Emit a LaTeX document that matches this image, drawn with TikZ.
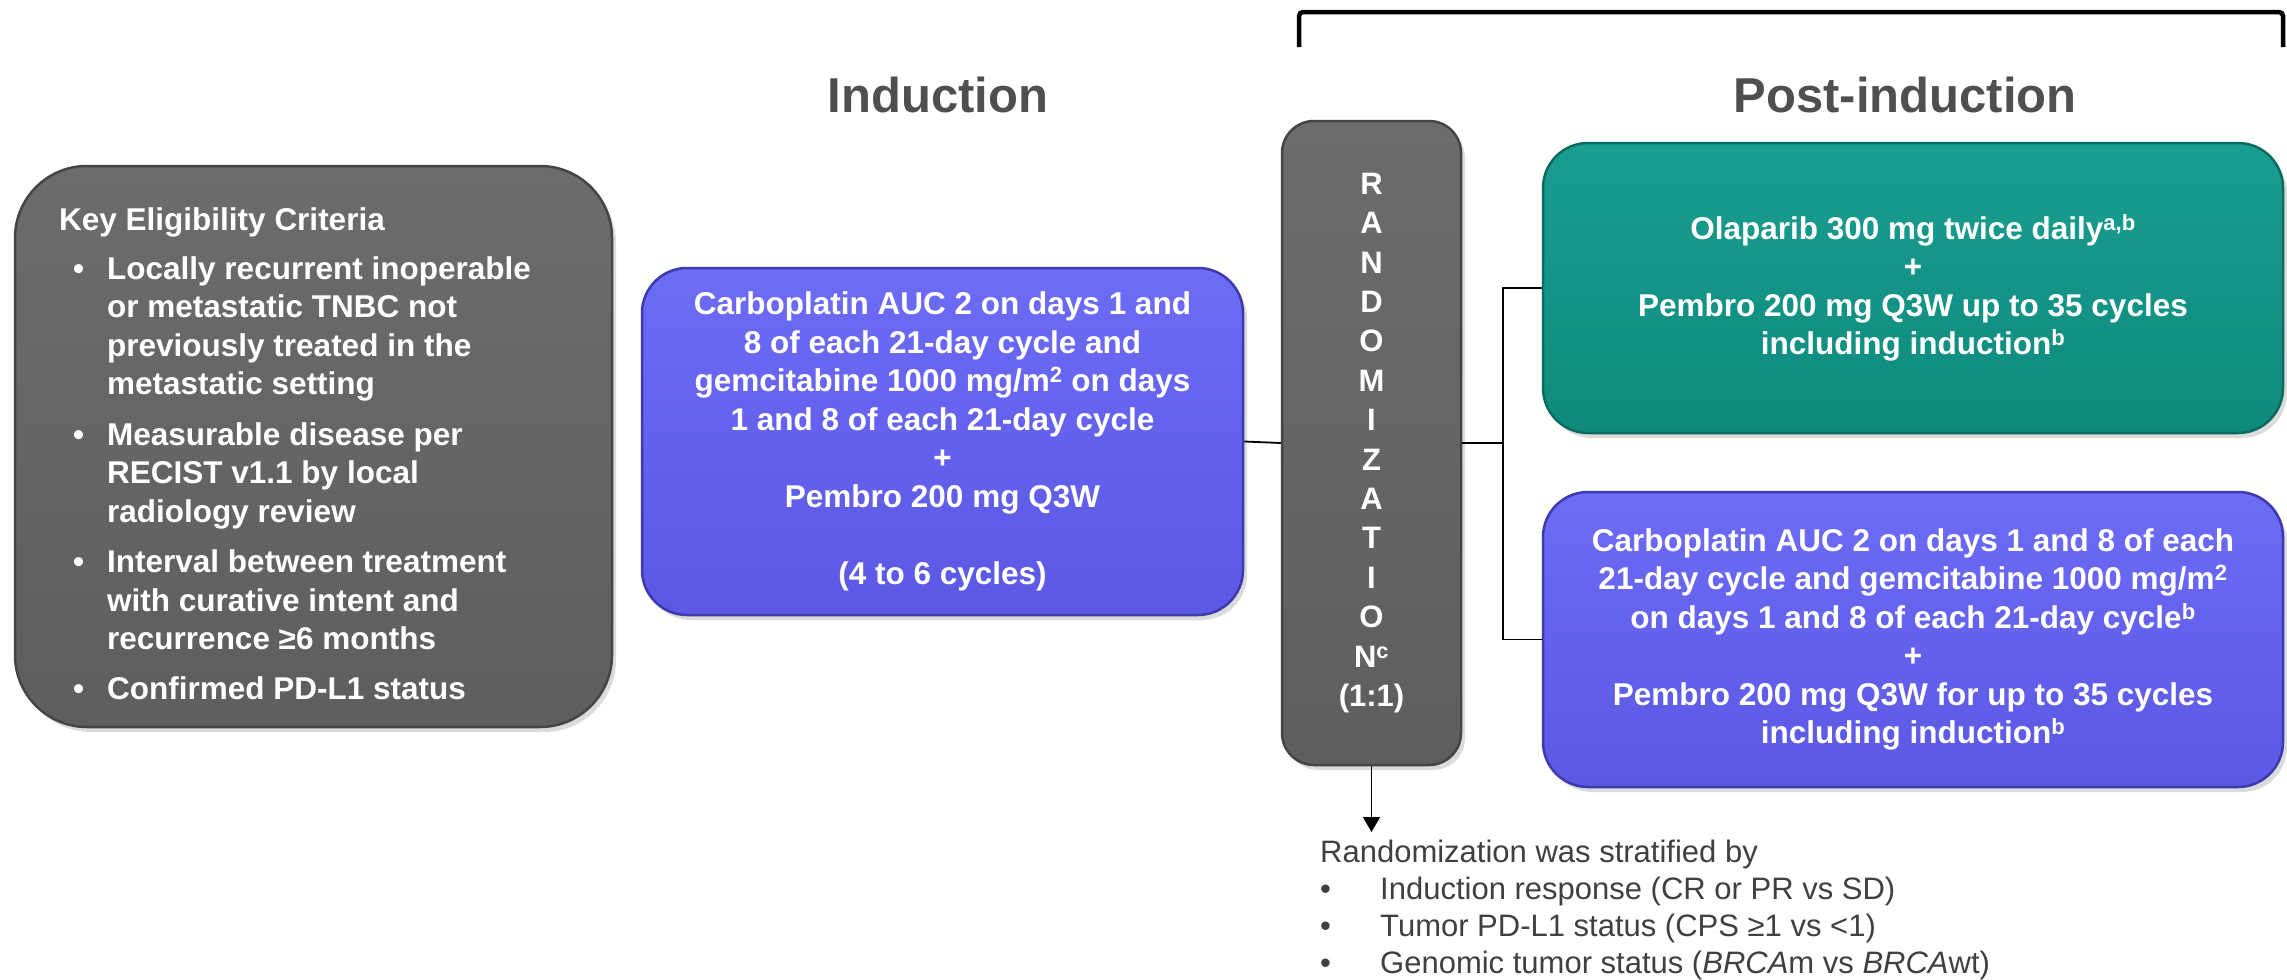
\documentclass[tikz,border=0pt]{standalone}
\usepackage{fontspec}
\setmainfont{Liberation Sans}
\usetikzlibrary{arrows.meta,shadows}
\definecolor{greyTop}{HTML}{6C6C6C}
\definecolor{greyBot}{HTML}{5E5E5E}
\definecolor{greyEdge}{HTML}{454545}
\definecolor{blueTop}{HTML}{6D6CF5}
\definecolor{blueBot}{HTML}{5B58E4}
\definecolor{blueEdge}{HTML}{3C3AAE}
\definecolor{tealTop}{HTML}{1A9E91}
\definecolor{tealBot}{HTML}{0E8A7C}
\definecolor{tealEdge}{HTML}{0A6B61}
\definecolor{titleGrey}{HTML}{4F4F4F}
\definecolor{noteGrey}{HTML}{404040}
\newcommand\bodyfnt{\fontsize{31.5}{38.5}\selectfont\bfseries}
\newcommand\randfnt{\fontsize{31}{39.4}\selectfont\bfseries}
\newcommand\notefnt{\fontsize{31}{37}\selectfont}
\newcommand\titlefnt{\fontsize{49}{58}\selectfont\bfseries}
\begin{document}
\begin{tikzpicture}[x=1pt,y=-1pt,
  boxbase/.style={rectangle, line width=2.5pt, inner sep=0pt,
    drop shadow={opacity=0.28, shadow xshift=4pt, shadow yshift=-5pt}},
  greybox/.style={boxbase, draw=greyEdge, top color=greyTop, bottom color=greyBot},
  bluebox/.style={boxbase, draw=blueEdge, top color=blueTop, bottom color=blueBot},
  tealbox/.style={boxbase, draw=tealEdge, top color=tealTop, bottom color=tealBot},
  boxtext/.style={text=white, font=\bodyfnt, align=center},
  title/.style={text=titleGrey, font=\titlefnt, anchor=base, inner sep=0pt},
  conn/.style={draw=black, line width=1.8pt}
]
\useasboundingbox (0,0) rectangle (2287,980);
\fill[white] (0,0) rectangle (2287,980);

% bracket over post-induction
\draw[line width=4.5pt, rounded corners=4pt] (1299,47) -- (1299,12) -- (2283,12) -- (2283,47);

% titles
\node[title] (tind) at (938,112) {Induction};
\node[title] (tpost) at (1905,112) {Post-induction};

% boxes
\node[greybox, rounded corners=72pt, minimum width=597pt, minimum height=561pt] (key) at (313.5,446.5) {};
\node[bluebox, rounded corners=45pt, minimum width=601pt, minimum height=347pt, boxtext] (ind) at (942.5,441.5)
  {Carboplatin AUC 2 on days 1 and\\8 of each 21-day cycle and\\gemcitabine 1000 mg/m\textsuperscript{2} on days\\1 and 8 of each 21-day cycle\\+\\Pembro 200 mg Q3W\\[38.5pt](4 to 6 cycles)};
\node[greybox, rounded corners=32pt, minimum width=179pt, minimum height=644pt, text=white, font=\randfnt, align=center] (rand) at (1371.5,443)
  {R\\A\\N\\D\\O\\M\\I\\Z\\A\\T\\I\\O\\N\textsuperscript{c}\\(1:1)};
\node[tealbox, rounded corners=45pt, minimum width=740pt, minimum height=290pt, boxtext] (olap) at (1913,288)
  {Olaparib 300 mg twice daily\textsuperscript{a,b}\\+\\Pembro 200 mg Q3W up to 35 cycles\\including induction\textsuperscript{b}};
\node[bluebox, rounded corners=45pt, minimum width=740pt, minimum height=295pt, boxtext] (chemo) at (1913,639.5)
  {Carboplatin AUC 2 on days 1 and 8 of each\\21-day cycle and gemcitabine 1000 mg/m\textsuperscript{2}\\on days 1 and 8 of each 21-day cycle\textsuperscript{b}\\+\\Pembro 200 mg Q3W for up to 35 cycles\\including induction\textsuperscript{b}};

% eligibility text
\node[anchor=base west, inner sep=0pt, text=white, font=\bodyfnt] (keytext) at (59,230)
  {\begin{tabular}[t]{@{}p{48pt}@{}l@{}}
   \multicolumn{2}{@{}l@{}}{Key Eligibility Criteria}\\[10.5pt]
   \hspace*{14pt}\textbullet & Locally recurrent inoperable\\
   & or metastatic TNBC not\\
   & previously treated in the\\
   & metastatic setting\\[12pt]
   \hspace*{14pt}\textbullet & Measurable disease per\\
   & RECIST v1.1 by local\\
   & radiology review\\[12pt]
   \hspace*{14pt}\textbullet & Interval between treatment\\
   & with curative intent and\\
   & recurrence \char"2265 6 months\\[11pt]
   \hspace*{14pt}\textbullet & Confirmed PD-L1 status
  \end{tabular}};

% stratification note
\coordinate (arrtip) at (1371.5,832);
\node[anchor=base west, inner sep=0pt, text=noteGrey, font=\notefnt] (note) at (1320,862)
  {\begin{tabular}[t]{@{}p{60pt}@{}l@{}}
   \multicolumn{2}{@{}l@{}}{Randomization was stratified by}\\
   \textbullet & Induction response (CR or PR vs SD)\\
   \textbullet & Tumor PD-L1 status (CPS \char"2265 1 vs <1)\\
   \textbullet & Genomic tumor status (\textit{BRCA}m vs \textit{BRCA}wt)
  \end{tabular}};

% connectors
\coordinate (split) at (1503,443);
\draw[conn] (ind.east) -- (rand.west);
\draw[conn] (rand.east) -- (split);
\draw[conn] (split) |- (olap.west);
\draw[conn] (split) |- (chemo.west);
\draw[conn, -{Triangle[width=17pt,length=15pt]}] (rand.south) -- (arrtip);
\end{tikzpicture}
\end{document}
